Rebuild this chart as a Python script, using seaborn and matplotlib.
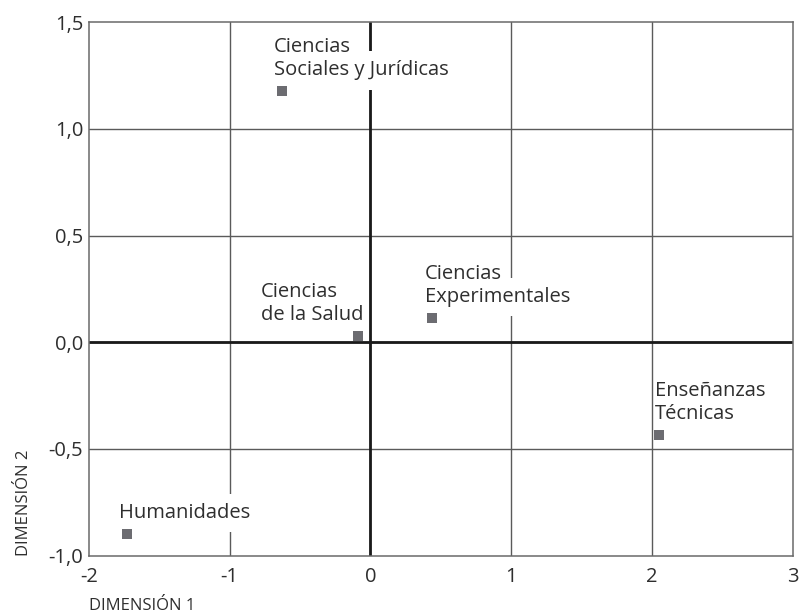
import matplotlib
matplotlib.use("Agg")
import matplotlib.pyplot as plt
import seaborn as sns
import pandas as pd

# data
areas = ["Ciencias\nSociales y Jurídicas", "Ciencias\nde la Salud",
         "Ciencias\nExperimentales", "Enseñanzas\nTécnicas", "Humanidades"]
dim1 = [-0.63, -0.09, 0.44, 2.05, -1.73]
dim2 = [1.175, 0.03, 0.115, -0.435, -0.90]

# label placement (style only)
label_side = ["left", "right", "left", "left", "left"]
label_nudge = [0, 0, 0, 3, 0]

xticks = [-2, -1, 0, 1, 2, 3]
xtick_labels = ["-2", "-1", "0", "1", "2", "3"]
yticks = [-1.0, -0.5, 0.0, 0.5, 1.0, 1.5]
ytick_labels = ["-1,0", "-0,5", "0,0", "0,5", "1,0", "1,5"]

df = pd.DataFrame({"area": areas, "dim1": dim1, "dim2": dim2})

sns.set_style("white")
plt.rcParams["font.family"] = ["Open Sans", "DejaVu Sans"]

text_col = "#2e2e2e"
grid_col = "#5a5a5a"
fs = 14.5

fig, ax = plt.subplots(figsize=(8, 6.13), dpi=100)
fig.subplots_adjust(left=0.111, right=0.991, top=0.964, bottom=0.0935)

# grid + zero axes
for x in xticks[1:-1]:
    ax.axvline(x, color=grid_col, lw=1.0, zorder=1)
for y in yticks[1:-1]:
    ax.axhline(y, color=grid_col, lw=1.0, zorder=1)
ax.axvline(0, color="#1a1a1a", lw=2.0, zorder=1.5)
ax.axhline(0, color="#1a1a1a", lw=2.0, zorder=1.5)

sns.scatterplot(data=df, x="dim1", y="dim2", marker="s", s=62,
                color="#6c6c71", linewidth=0, ax=ax, zorder=5)

ax.set_xlim(-2, 3)
ax.set_ylim(-1.0, 1.5)
ax.set_xticks(xticks, xtick_labels)
ax.set_yticks(yticks, ytick_labels)
ax.tick_params(axis="both", length=0, labelsize=fs, colors=text_col)
ax.tick_params(axis="x", pad=8)
ax.tick_params(axis="y", pad=4)

for sp in ax.spines.values():
    sp.set_color("#6a6a6a")
    sp.set_linewidth(1.1)

ax.set_xlabel("DIMENSIÓN 1", loc="left", fontsize=12, color=text_col, labelpad=8)
ax.set_ylabel("DIMENSIÓN 2", loc="bottom", fontsize=12, color=text_col, labelpad=12)

renderer = fig.canvas.get_renderer()


def text_width(s):
    t = ax.text(0, 0, s, fontsize=fs)
    w = t.get_window_extent(renderer).width
    t.remove()
    return w


# labels: one white box per line (tall, narrow pad), text drawn on top
box = dict(boxstyle="square,pad=0.05", mutation_aspect=9, fc="white", ec="none")
for name, x, y, side, nudge in zip(areas, dim1, dim2, label_side, label_nudge):
    lines = name.split("\n")
    n = len(lines)
    if side == "right":
        dx = 6.0 - max(text_width(l) for l in lines)
    else:
        dx = -7.5 + nudge
    for layer in ("box", "text"):
        for i, line in enumerate(lines):
            dy = 16 + 23 * (n - 1 - i)
            if layer == "box":
                ax.annotate(line, (x, y), xytext=(dx, dy), textcoords="offset pixels",
                            ha="left", va="baseline", fontsize=fs, color="none",
                            bbox=box, zorder=3)
            else:
                ax.annotate(line, (x, y), xytext=(dx, dy), textcoords="offset pixels",
                            ha="left", va="baseline", fontsize=fs, color=text_col,
                            zorder=4)

fig.savefig("out.png", dpi=100)
